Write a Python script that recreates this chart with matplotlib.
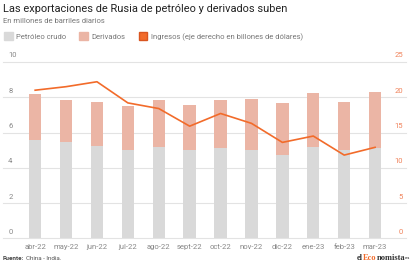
import matplotlib.pyplot as plt
import matplotlib.transforms as mtransforms
from matplotlib.patches import Patch

plt.rcParams['font.family'] = ['Roboto', 'DejaVu Sans']

# Datos
meses = ['abr-22', 'may-22', 'jun-22', 'jul-22', 'ago-22', 'sept-22',
         'oct-22', 'nov-22', 'dic-22', 'ene-23', 'feb-23', 'mar-23']
crudo = [5.55, 5.49, 5.24, 5.02, 5.19, 5.02, 5.13, 5.02, 4.73, 5.20, 5.02, 5.10]
total = [8.16, 7.82, 7.74, 7.48, 7.82, 7.57, 7.86, 7.91, 7.67, 8.22, 7.71, 8.29]
derivados = [t - c for t, c in zip(total, crudo)]
ingresos = [21.0, 21.5, 22.2, 19.2, 18.4, 15.9, 17.7, 16.3, 13.6, 14.5, 11.8, 12.9]
ticks_izq = [0, 2, 4, 6, 8, 10]
ticks_der = [0, 5, 10, 15, 20, 25]

c_crudo = '#d9d9d9'
c_deriv = '#ebb5a5'
c_ing = '#f26b2a'
c_txt = '#888888'

W, H = 412, 265
fig = plt.figure(figsize=(W / 100, H / 100), dpi=100)
ax = fig.add_axes([3 / W, 26.7 / H, 403 / W, 176.3 / H])
x = list(range(len(meses)))

ax.bar(x, crudo, width=0.4, color=c_crudo, zorder=2)
ax.bar(x, derivados, bottom=crudo, width=0.4, color=c_deriv, zorder=2)
ax.set_xlim(-1.04, 12.0)
ax.set_ylim(0, 10)

ax2 = ax.twinx()
ax2.plot(x, ingresos, color=c_ing, lw=1.2, zorder=3)
ax2.set_ylim(0, 25)

for a in (ax, ax2):
    for s in a.spines.values():
        s.set_visible(False)
    a.set_yticks([])

# lineas de cuadricula y etiquetas sobre ellas
for v in ticks_izq:
    ax.axhline(v, color='#e3e3e3', lw=0.8, zorder=0, clip_on=False)
tr_l = mtransforms.blended_transform_factory(ax.transAxes, ax.transData)
for v in ticks_izq:
    ax.text(0.013, v + 0.2, str(v), transform=tr_l, ha='left', va='bottom',
            fontsize=5.5, color=c_txt)
tr_r = mtransforms.blended_transform_factory(ax2.transAxes, ax2.transData)
for v in ticks_der:
    ax2.text(0.992, v + 0.5, str(v), transform=tr_r, ha='right', va='bottom',
             fontsize=5.5, color='#f0825a')

ax.set_xticks(x)
ax.set_xticklabels(meses, fontsize=5.5, color=c_txt)
ax.tick_params(axis='x', length=0, pad=4)

fig.text(3 / W, 1 - 8.5 / H, 'Las exportaciones de Rusia de petróleo y derivados suben',
         fontsize=7.9, color='#222222', va='center', ha='left')
fig.text(3 / W, 1 - 21 / H, 'En millones de barriles diarios',
         fontsize=5.5, color='#777777', va='center', ha='left')

handles = [Patch(facecolor=c_crudo, edgecolor=c_crudo),
           Patch(facecolor=c_deriv, edgecolor=c_deriv),
           Patch(facecolor=c_ing, edgecolor='#d95520')]
labels = ['Petróleo crudo', 'Derivados', 'Ingresos (eje derecho en billones de dólares)']
fig.legend(handles, labels, loc='center left', bbox_to_anchor=(4 / W, 1 - 36.5 / H),
           ncol=3, frameon=False, fontsize=5.5, handlelength=1.15, handleheight=1.15,
           handletextpad=0.45, columnspacing=1.7, labelcolor='#777777',
           borderpad=0, borderaxespad=0)

# fuente
fig.canvas.draw()
r = fig.canvas.get_renderer()
t = fig.text(3 / W, 1 - 259 / H, 'Fuente:', fontsize=4.5, weight='bold',
             color='#444444', va='center', ha='left')
fig.text((3 + t.get_window_extent(r).width + 2) / W, 1 - 259 / H, 'China - India.',
         fontsize=4.5, color='#555555', va='center', ha='left')

# logo
px = 357
logo_y = 1 - 258 / H
for txt, col, fs in [('el', '#333333', 6), ('Eco', c_ing, 6),
                     ('nomista', '#333333', 6), ('.es', '#333333', 3.5)]:
    t = fig.text(px / W, logo_y, txt, fontsize=fs, family='Liberation Serif',
                 weight='bold', color=col, va='center', ha='left')
    px += t.get_window_extent(r).width

fig.savefig('out.png', dpi=100)
